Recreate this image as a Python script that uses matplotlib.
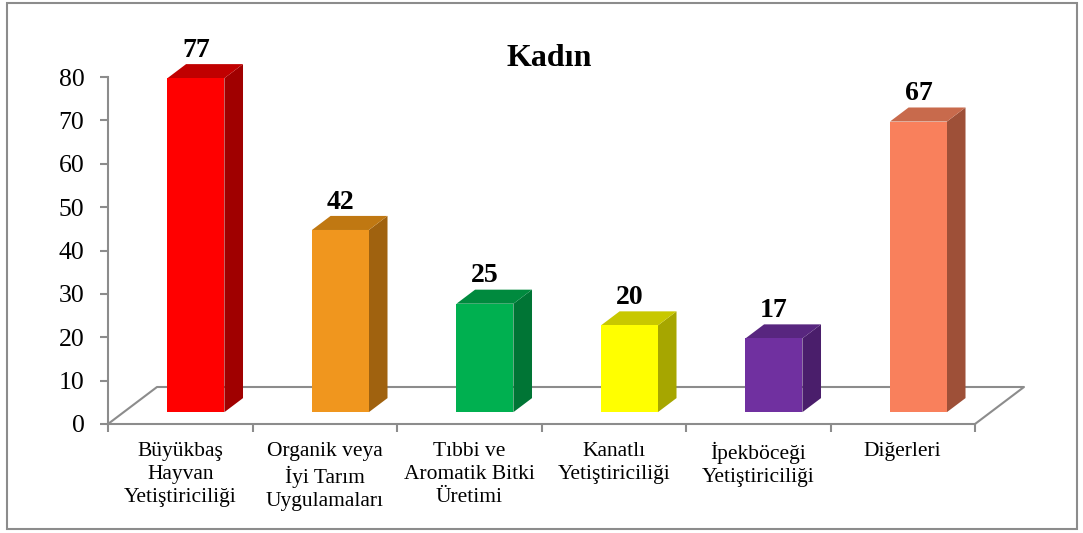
import matplotlib.pyplot as plt
from matplotlib.patches import Polygon, Rectangle
import numpy as np

plt.rcParams['font.family'] = ['Liberation Serif', 'DejaVu Serif']

categories = [
    'Büyükbaş\nHayvan\nYetiştiriciliği',
    'Organik veya\nİyi Tarım\nUygulamaları',
    'Tıbbi ve\nAromatik Bitki\nÜretimi',
    'Kanatlı\nYetiştiriciliği',
    'İpekböceği\nYetiştiriciliği',
    'Diğerleri',
]
values = [77, 42, 25, 20, 17, 67]
front_colors = ['#FF0000', '#F0961E', '#00B050', '#FFFF00', '#7030A0', '#F9805C']
side_colors = ['#A00000', '#A0620F', '#007535', '#A6A600', '#4A1E6B', '#9E5038']
top_colors = ['#C00000', '#C07812', '#008A3E', '#C8C800', '#58267F', '#C86A4C']
title = 'Kadın'

grey = '#8C8C8C'

fig = plt.figure(figsize=(10.83, 5.33), dpi=100)
ax = fig.add_axes([108 / 1083, 109 / 533, 867 / 1083, 347 / 533])
n = len(values)
ax.set_xlim(-0.5, n - 0.5)
ax.set_ylim(0, 80)

# oblique depth of the floor, in data units
depth_x = 0.339
depth_y = 8.53
front = 0.32   # bar front face position inside the floor depth
deep = 0.38    # bar depth as a fraction of the floor depth
width = 0.394

for i, v in enumerate(values):
    x0 = i - width / 2 + front * depth_x
    y0 = front * depth_y
    ddx, ddy = deep * depth_x, deep * depth_y
    side = [(x0 + width, y0), (x0 + width + ddx, y0 + ddy),
            (x0 + width + ddx, y0 + v + ddy), (x0 + width, y0 + v)]
    top = [(x0, y0 + v), (x0 + width, y0 + v),
           (x0 + width + ddx, y0 + v + ddy), (x0 + ddx, y0 + v + ddy)]
    ax.add_patch(Polygon(side, closed=True, facecolor=side_colors[i],
                         edgecolor='none', clip_on=False, zorder=3))
    ax.add_patch(Polygon(top, closed=True, facecolor=top_colors[i],
                         edgecolor='none', clip_on=False, zorder=3))
    ax.add_patch(Rectangle((x0, y0), width, v, facecolor=front_colors[i],
                           edgecolor='none', clip_on=False, zorder=4))
    ax.text(x0 + width / 2, y0 + v + ddy + 0.3, str(v), ha='center',
            va='bottom', fontsize=20, fontweight='bold', zorder=5)

# floor outline
fx = [-0.5, -0.5 + depth_x, n - 0.5 + depth_x, n - 0.5]
fy = [0, depth_y, depth_y, 0]
ax.plot(fx, fy, color=grey, lw=1.5, clip_on=False, zorder=2)

for side_name in ['top', 'right']:
    ax.spines[side_name].set_visible(False)
for side_name in ['left', 'bottom']:
    ax.spines[side_name].set_color(grey)
    ax.spines[side_name].set_linewidth(1.5)

ax.set_yticks(np.arange(0, 81, 10))
ax.tick_params(axis='y', colors=grey, labelcolor='black', labelsize=18.5,
               length=6, width=1.5, pad=11)
ax.set_xticks(np.arange(-0.5, n, 1))
ax.set_xticklabels([])
ax.tick_params(axis='x', which='major', colors=grey, length=6, width=1.5)
ax.set_xticks(np.arange(n), minor=True)
ax.set_xticklabels(categories, minor=True, fontsize=15.5, linespacing=1.27)
ax.tick_params(axis='x', which='minor', length=0, pad=13, labelcolor='black')

fig.text(549 / 1083, 1 - 59 / 533, title, ha='center', va='center',
         fontsize=23, fontweight='bold')

fig.add_artist(Rectangle((7 / 1083, 4 / 533), 1070 / 1083, 526 / 533,
                         transform=fig.transFigure, fill=False,
                         edgecolor=grey, lw=1.5))

fig.savefig('out.png', dpi=100)
